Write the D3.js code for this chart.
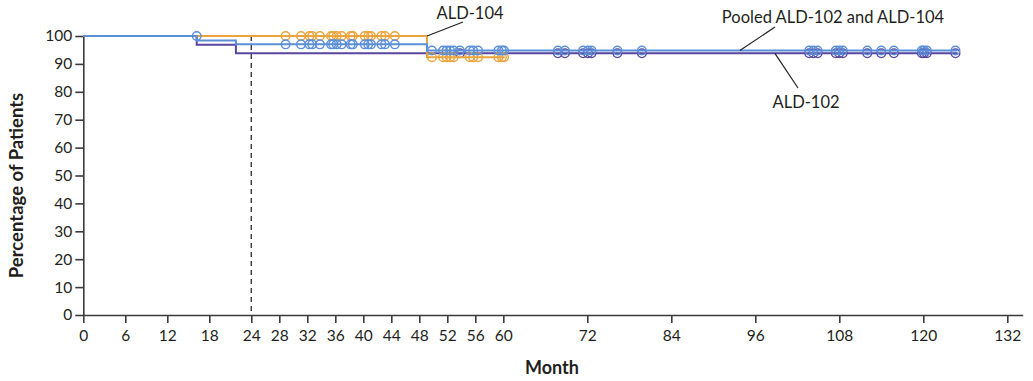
<!DOCTYPE html>
<html>
<head>
<meta charset="utf-8">
<script src="https://d3js.org/d3.v7.min.js"></script>
<style>
  body { margin: 0; background: #fff; }
  svg text { font-family: Lato, "Open Sans", sans-serif; fill: #231f20; }
</style>
</head>
<body>
<script>
// x ticks (months) and y ticks (percent)
const monthTicks = [0, 6, 12, 18, 24, 28, 32, 36, 40, 44, 48, 52, 56, 60, 72, 84, 96, 108, 120, 132];
const pctTicks = d3.range(0, 101, 10);

// step curves: [month, percent]
const ald104Steps = [[0, 100], [49.1, 92.4]];
const ald104End = 60.2;
const ald102Steps = [[0, 100], [16.2, 96.9], [21.8, 93.8]];
const ald102End = 124.9;
const pooledSteps = [[0, 100], [16.2, 98.4], [21.8, 97.0], [49.1, 94.8]];
const pooledEnd = 124.9;

// censored times
const ald104Censor = [28.9, 31.1, 32.3, 32.7, 33.8, 35.4, 35.7, 36.2, 36.9, 38.2, 38.5, 40.2, 40.7, 41.1, 42.6, 43.1, 44.5,
                      49.8, 51.4, 51.9, 52.4, 52.9, 55.2, 55.7, 56.4, 59.3, 59.8, 60.1];
const ald102Censor = [53.8, 67.8, 68.8, 71.4, 72.1, 72.6, 76.3, 79.8, 103.7, 104.3, 104.9, 107.5, 108.0, 108.5,
                      112.0, 114.0, 115.8, 119.8, 120.1, 120.5, 124.6];
const pooledCensor = [16.2].concat(ald104Censor, ald102Censor);

const width = 1033, height = 381;
const orange = '#eba43d', blue = '#5b8fd8', purple = '#5a469f', ink = '#3a3a3a';

const svg = d3.select('body').append('svg').attr('width', width).attr('height', height);

const x = d3.scaleLinear().domain([0, 134.2]).range([83.3, 1022.7]);
const y = d3.scaleLinear().domain([0, 100]).range([315, 36]);

// axes
const xAxis = svg.append('g').attr('transform', `translate(0,${y(0)})`)
    .call(d3.axisBottom(x).tickValues(monthTicks).tickSize(8).tickSizeOuter(0).tickPadding(7));
const yAxis = svg.append('g').attr('transform', `translate(${x(0)},0)`)
    .call(d3.axisLeft(y).tickValues(pctTicks).tickSize(8).tickSizeOuter(0).tickPadding(3));
[xAxis, yAxis].forEach(a => {
    a.selectAll('path, line').attr('stroke', ink).attr('stroke-width', 1.6);
    a.selectAll('text').style('font-size', '15.5px').attr('fill', '#231f20');
});

// 24-month reference line
svg.append('line')
    .attr('x1', x(24)).attr('x2', x(24)).attr('y1', y(100)).attr('y2', y(0))
    .attr('stroke', ink).attr('stroke-width', 1.4).attr('stroke-dasharray', '5,4');

function stepPoints(steps, end) {
    const pts = [];
    steps.forEach((s, i) => {
        if (i > 0) pts.push([s[0], steps[i - 1][1]]);
        pts.push(s);
    });
    pts.push([end, steps[steps.length - 1][1]]);
    return pts;
}
function levelAt(steps, t) {
    let v = steps[0][1];
    steps.forEach(s => { if (s[0] < t) v = s[1]; });
    return v;
}
const line = d3.line().x(d => x(d[0])).y(d => y(d[1]));

function drawCurve(steps, end, censor, color) {
    const g = svg.append('g');
    g.append('path').datum(stepPoints(steps, end))
        .attr('d', line).attr('fill', 'none').attr('stroke', color).attr('stroke-width', 2);
    g.selectAll('circle').data(censor).join('circle')
        .attr('cx', d => x(d)).attr('cy', d => y(levelAt(steps, d)))
        .attr('r', 4.3).attr('fill', 'none').attr('stroke', color).attr('stroke-width', 1.4);
}
drawCurve(ald102Steps, ald102End, ald102Censor, purple);
drawCurve(ald104Steps, ald104End, ald104Censor, orange);
drawCurve(pooledSteps, pooledEnd, pooledCensor, blue);

// labels with leader lines
const labels = [
    {text: 'ALD-104', tx: 470, ty: 19, from: [49.1, 100], to: [463, 22]},
    {text: 'Pooled ALD-102 and ALD-104', tx: 833, ty: 23, from: [93.8, 94.8], to: [775, 27]},
    {text: 'ALD-102', tx: 806, ty: 108, from: [98.8, 93.8], to: [798, 88]}
];
labels.forEach(l => {
    svg.append('line')
        .attr('x1', x(l.from[0])).attr('y1', y(l.from[1]))
        .attr('x2', l.to[0]).attr('y2', l.to[1])
        .attr('stroke', '#222').attr('stroke-width', 1.2);
    svg.append('text').attr('x', l.tx).attr('y', l.ty)
        .attr('text-anchor', 'middle').style('font-size', '16.5px').text(l.text);
});

// axis titles
svg.append('text').attr('x', 552).attr('y', 374).attr('text-anchor', 'middle')
    .style('font-size', '18px').style('font-weight', 'bold').text('Month');
svg.append('text').attr('transform', `translate(23,${(y(0) + y(100)) / 2 + 10}) rotate(-90)`)
    .attr('text-anchor', 'middle').style('font-size', '18.5px').style('font-weight', 'bold')
    .text('Percentage of Patients');
</script>
</body>
</html>
